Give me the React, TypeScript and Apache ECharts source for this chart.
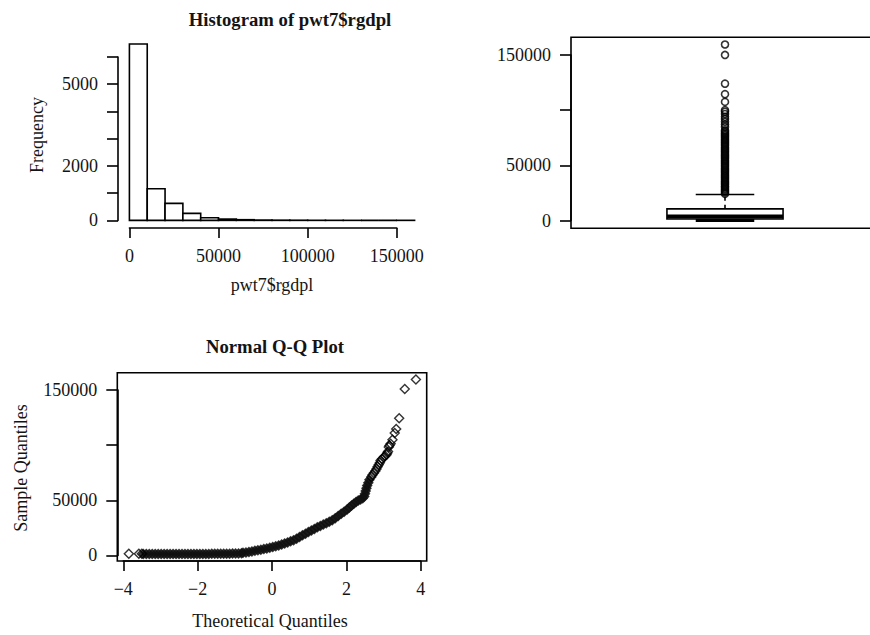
import React, { useEffect, useRef } from 'react';
import * as echarts from 'echarts';

// ---------- data ----------
const histBinStarts = [0, 10000, 20000, 30000, 40000, 50000, 60000, 70000, 80000, 90000, 100000, 110000, 120000, 130000, 140000, 150000];
const histBinWidth = 10000;
const histCounts = [6480, 1160, 625, 257, 96, 48, 25, 12, 8, 6, 3, 2, 1, 0, 0, 2];
const histXTicks = [0, 50000, 100000, 150000];
const histYTicks = [0, 1000, 2000, 3000, 4000, 5000, 6000];
const histYTickLabels = [0, 2000, 5000];

// [lower whisker, Q1, median, Q3, upper whisker]
const boxStats = [150, 1400, 3600, 10600, 23600];
const boxOutliers = [
  24200, 25400, 26500, 27700, 28900, 30100, 31200, 32400, 33600, 34800, 35900, 37100, 38300, 39500,
  40600, 41800, 43000, 44200, 45300, 46500, 47700, 48900, 50000, 51200, 52400, 53600, 54700, 55900,
  57100, 58300, 59400, 60600, 61800, 63000, 64100, 65300, 66500, 67700, 68800, 70000, 71200, 72400,
  73500, 74700, 75900, 77100, 78200, 79400, 80600, 81800, 84800, 87000, 89500, 92000, 94000, 96500,
  98500, 100000, 107500, 114500, 124000, 150000, 159500,
];
const boxYTicks = [0, 50000, 100000, 150000];
const boxYTickLabels = [0, 50000, 150000];

// Normal Q-Q plot: dense part of the cloud (theoretical, sample)
const qqTheoretical = [
  -3.46, -3.38, -3.30, -3.22, -3.14, -3.06, -2.98, -2.90, -2.82, -2.74, -2.66, -2.58, -2.50, -2.42,
  -2.34, -2.26, -2.18, -2.10, -2.02, -1.94, -1.86, -1.78, -1.70, -1.62, -1.54, -1.46, -1.38, -1.30,
  -1.22, -1.14, -1.06, -0.98, -0.90, -0.82, -0.78, -0.70, -0.62, -0.54, -0.46, -0.38, -0.30, -0.22,
  -0.14, -0.06, 0.02, 0.10, 0.18, 0.26, 0.34, 0.42, 0.50, 0.58, 0.66, 0.74, 0.82, 0.90, 0.98, 1.06,
  1.14, 1.22, 1.30, 1.38, 1.46, 1.54, 1.62, 1.70, 1.78, 1.86, 1.94, 2.02, 2.08, 2.14, 2.20, 2.26,
  2.32, 2.38, 2.44, 2.48, 2.50, 2.52, 2.54, 2.56, 2.59, 2.62,
];
const qqSample = [
  1300, 1300, 1300, 1300, 1300, 1300, 1300, 1300, 1300, 1300, 1300, 1300, 1300, 1300,
  1300, 1300, 1300, 1300, 1400, 1400, 1400, 1400, 1400, 1500, 1500, 1500, 1500, 1500,
  1600, 1600, 1700, 1700, 1800, 2000, 2400, 2700, 3200, 3700, 4300, 4800, 5300, 5800,
  6400, 7000, 7600, 8300, 9000, 9900, 10800, 11800, 12800, 13900, 15200, 16800, 18300, 19800, 21200, 22700,
  24000, 25500, 26800, 28000, 29300, 30600, 32000, 33800, 35800, 37800, 39700, 41600, 43500, 45300, 47000, 48500,
  49800, 50800, 51800, 53500, 56000, 58500, 61000, 63500, 66000, 68700,
];
// sparse tails (drawn as open diamonds)
const qqTailTheoretical = [
  -3.85, -3.58, -3.50, 2.67, 2.70, 2.74, 2.78, 2.81, 2.84, 2.87, 2.90, 2.92, 2.96, 3.01, 3.04, 3.08,
  3.10, 3.12, 3.14, 3.16, 3.19, 3.24, 3.30, 3.34, 3.42, 3.57, 3.87,
];
const qqTailSample = [
  1500, 1500, 1500, 71200, 73000, 74800, 76500, 78400, 80500, 82300, 84000, 86200, 87500, 89200, 90200, 91300,
  92800, 94300, 98300, 99800, 101300, 104900, 111000, 114600, 124500, 151000, 159500,
];
const qqXTicks = [-4, -2, 0, 2, 4];
const qqYTicks = [0, 50000, 100000, 150000];
const qqYTickLabels = [0, 50000, 150000];

// ---------- layout ----------
const FONT = "'Liberation Serif', 'Times New Roman', serif";
const INK = '#141414';
const LW = 1.6;

type Panel = { left: number; top: number; width: number; height: number; xMin: number; xMax: number; yMin: number; yMax: number };
const HIST: Panel = { left: 118, top: 37, width: 308, height: 191, xMin: -6400, xMax: 166400, yMin: -280, yMax: 6735 };
const BOX: Panel = { left: 571, top: 37.3, width: 308, height: 191, xMin: 0, xMax: 2, yMin: -7000, yMax: 166000 };
const QQ: Panel = { left: 117.3, top: 372.7, width: 309.4, height: 188.3, xMin: -4.16, xMax: 4.16, yMin: -5000, yMax: 165700 };
const BOX_HALF = 0.377;
const STAPLE_HALF = 0.19;

const mapX = (p: Panel, v: number) => p.left + ((v - p.xMin) / (p.xMax - p.xMin)) * p.width;
const mapY = (p: Panel, v: number) => p.top + ((p.yMax - v) / (p.yMax - p.yMin)) * p.height;

const xAxisGrid = (p: Panel, ticks: number[]) => ({
  left: mapX(p, ticks[0]),
  width: mapX(p, ticks[ticks.length - 1]) - mapX(p, ticks[0]),
  top: p.top,
  height: p.height,
  outerBoundsMode: 'none',
});
const yAxisGrid = (p: Panel, ticks: number[]) => ({
  left: p.left,
  width: p.width,
  top: mapY(p, ticks[ticks.length - 1]),
  height: mapY(p, ticks[0]) - mapY(p, ticks[ticks.length - 1]),
  outerBoundsMode: 'none',
});
const dataGrid = (p: Panel, frame: boolean) => ({
  left: p.left,
  top: p.top,
  width: p.width,
  height: p.height,
  show: frame,
  borderColor: '#000',
  borderWidth: LW,
  backgroundColor: 'transparent',
  outerBoundsMode: 'none',
});

const hidden = (gridIndex: number, min: number, max: number) => ({
  type: 'value', gridIndex, min, max, show: false,
});

const visibleAxis = (gridIndex: number, ticks: number[], labels: number[] | null, isY: boolean) => ({
  type: 'value',
  gridIndex,
  min: ticks[0],
  max: ticks[ticks.length - 1],
  interval: ticks[1] - ticks[0],
  position: isY ? 'left' : 'bottom',
  axisLine: { show: true, onZero: false, lineStyle: { color: '#000', width: LW } },
  axisTick: { show: true, inside: false, length: isY ? 11 : 10, lineStyle: { color: '#000', width: LW } },
  splitLine: { show: false },
  axisLabel: {
    show: true,
    color: INK,
    fontFamily: FONT,
    fontSize: 18,
    margin: isY ? 20 : 19,
    showMinLabel: true,
    showMaxLabel: true,
    formatter: (v: number) => {
      if (labels && !labels.includes(v)) return '';
      return v < 0 ? '\u2212' + String(-v) : String(v);
    },
  },
});

const label = (text: string, x: number, y: number, opts: { bold?: boolean; rotate?: boolean } = {}) => ({
  type: 'text',
  x,
  y,
  rotation: opts.rotate ? Math.PI / 2 : 0,
  style: {
    text,
    fill: INK,
    font: `${opts.bold ? 'bold ' : ''}${opts.bold ? 18.7 : 18}px ${FONT}`,
    align: 'center',
    verticalAlign: 'middle',
  },
  silent: true,
});

export default function App() {
  const ref = useRef<HTMLDivElement>(null);

  useEffect(() => {
    if (!ref.current) return;
    const chart = echarts.init(ref.current, null, { renderer: 'svg' });

    const option: any = {
      animation: false,
      backgroundColor: '#fff',
      grid: [
        dataGrid(HIST, false), // 0
        xAxisGrid(HIST, histXTicks), // 1
        yAxisGrid(HIST, histYTicks), // 2
        dataGrid(BOX, true), // 3
        yAxisGrid(BOX, boxYTicks), // 4
        dataGrid(QQ, true), // 5
        xAxisGrid(QQ, qqXTicks), // 6
        yAxisGrid(QQ, qqYTicks), // 7
      ],
      xAxis: [
        hidden(0, HIST.xMin, HIST.xMax),
        visibleAxis(1, histXTicks, null, false),
        hidden(2, 0, 1),
        hidden(3, BOX.xMin, BOX.xMax),
        hidden(4, 0, 1),
        hidden(5, QQ.xMin, QQ.xMax),
        visibleAxis(6, qqXTicks, null, false),
        hidden(7, 0, 1),
      ],
      yAxis: [
        hidden(0, HIST.yMin, HIST.yMax),
        hidden(1, 0, 1),
        visibleAxis(2, histYTicks, histYTickLabels, true),
        hidden(3, BOX.yMin, BOX.yMax),
        visibleAxis(4, boxYTicks, boxYTickLabels, true),
        hidden(5, QQ.yMin, QQ.yMax),
        hidden(6, 0, 1),
        visibleAxis(7, qqYTicks, qqYTickLabels, true),
      ],
      graphic: [
        label('Histogram of pwt7$rgdpl', 290, 19, { bold: true }),
        label('Frequency', 37, 135, { rotate: true }),
        label('pwt7$rgdpl', 272, 285),
        label('Normal Q-Q Plot', 275, 346.5, { bold: true }),
        label('Theoretical Quantiles', 270, 621),
        label('Sample Quantiles', 21, 468, { rotate: true }),
      ],
      series: [
        {
          type: 'custom',
          xAxisIndex: 0,
          yAxisIndex: 0,
          silent: true,
          clip: false,
          data: histBinStarts.map((s, i) => [s, s + histBinWidth, histCounts[i]]),
          renderItem: (_params: any, api: any) => {
            const p0 = api.coord([api.value(0), api.value(2)]);
            const p1 = api.coord([api.value(1), 0]);
            return {
              type: 'rect',
              shape: { x: p0[0], y: p0[1], width: p1[0] - p0[0], height: p1[1] - p0[1] },
              style: { fill: '#fff', stroke: '#000', lineWidth: LW },
            };
          },
        },
        {
          type: 'custom',
          xAxisIndex: 3,
          yAxisIndex: 3,
          silent: true,
          data: [[1, ...boxStats]],
          renderItem: (_params: any, api: any) => {
            const x = api.value(0);
            const lo = api.value(1);
            const q1 = api.value(2);
            const med = api.value(3);
            const q3 = api.value(4);
            const hi = api.value(5);
            const c = (vx: number, vy: number) => api.coord([vx, vy]);
            const line = (a: number[], b: number[], w: number, dash?: number[]) => ({
              type: 'line',
              shape: { x1: a[0], y1: a[1], x2: b[0], y2: b[1] },
              style: { stroke: '#000', lineWidth: w, lineDash: dash },
            });
            const tl = c(x - BOX_HALF, q3);
            const br = c(x + BOX_HALF, q1);
            return {
              type: 'group',
              children: [
                line(c(x, q3), c(x, hi), LW, [4, 4]),
                line(c(x, q1), c(x, lo), LW, [4, 4]),
                line(c(x - STAPLE_HALF, hi), c(x + STAPLE_HALF, hi), LW),
                line(c(x - STAPLE_HALF, lo), c(x + STAPLE_HALF, lo), 3),
                {
                  type: 'rect',
                  shape: { x: tl[0], y: tl[1], width: br[0] - tl[0], height: br[1] - tl[1] },
                  style: { fill: '#fff', stroke: '#000', lineWidth: LW },
                },
                line(c(x - BOX_HALF, med), c(x + BOX_HALF, med), 4),
              ],
            };
          },
        },
        {
          type: 'scatter',
          xAxisIndex: 3,
          yAxisIndex: 3,
          silent: true,
          symbol: 'circle',
          symbolSize: 7,
          itemStyle: { color: 'rgba(0,0,0,0)', borderColor: '#000', borderWidth: 1.6 },
          data: boxOutliers.map((v) => [1, v]),
        },
        {
          type: 'scatter',
          xAxisIndex: 5,
          yAxisIndex: 5,
          silent: true,
          symbol: 'diamond',
          symbolSize: 9,
          itemStyle: { color: '#111', borderColor: '#111', borderWidth: 1.4 },
          data: qqTheoretical.map((t, i) => [t, qqSample[i]]),
        },
        {
          type: 'scatter',
          xAxisIndex: 5,
          yAxisIndex: 5,
          silent: true,
          symbol: 'diamond',
          symbolSize: 9,
          itemStyle: { color: 'rgba(0,0,0,0)', borderColor: '#000', borderWidth: 1.4 },
          data: qqTailTheoretical.map((t, i) => [t, qqTailSample[i]]),
        },
      ],
    };

    chart.setOption(option);
    return () => chart.dispose();
  }, []);

  return (
    <div
      ref={ref}
      style={{ position: 'fixed', left: 0, top: 0, width: 870, height: 635, background: '#fff' }}
    />
  );
}
